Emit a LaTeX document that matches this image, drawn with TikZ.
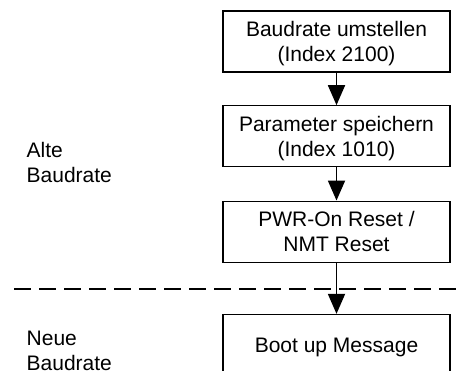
\documentclass[tikz,border=0pt]{standalone}
\usepackage{fontspec}
\setmainfont{Liberation Sans}
\usetikzlibrary{arrows.meta}

\tikzset{
  stepbox/.style={draw=black, line width=1.3pt, minimum width=227pt,
    minimum height=61pt, align=center, inner sep=0pt, text depth=0pt,
    font=\fontsize{21}{25}\selectfont},
  flow/.style={draw=black, line width=1.8pt,
    -{Triangle[width=17pt,length=20pt]}},
  phase/.style={align=left, inner sep=0pt, anchor=base west,
    font=\fontsize{21}{25}\selectfont},
  divider/.style={draw=black, line width=1.8pt,
    dash pattern=on 16.7pt off 8.3pt}
}

\begin{document}
\begin{tikzpicture}[x=1pt,y=-1pt]
  \useasboundingbox (0,0) rectangle (462,370);
  \clip (0,0) rectangle (462,370);

  % process steps
  \node[stepbox] (baud)  at (336.5,41.5)  {Baudrate umstellen\\(Index 2100)};
  \node[stepbox] (save)  at (336.5,136.3) {Parameter speichern\\(Index 1010)};
  \node[stepbox] (reset) at (336.5,231.7) {PWR-On Reset /\\NMT Reset};
  \node[stepbox] (boot)  at (336.5,345)   {Boot up Message};

  % phase labels (anchored at the baseline of the last line)
  \node[phase] (oldrate) at (26.5,182) {Alte\\Baudrate};
  \node[phase] (newrate) at (26.5,370.5) {Neue\\Baudrate};

  % boundary between old and new baud rate
  \coordinate (sepL) at (14,289);
  \coordinate (sepR) at (462,289);
  \draw[divider] (sepL) -- (sepR);

  % flow arrows
  \draw[flow] (baud) -- (save);
  \draw[flow] (save) -- (reset);
  \draw[flow] (reset) -- (boot);
\end{tikzpicture}
\end{document}
